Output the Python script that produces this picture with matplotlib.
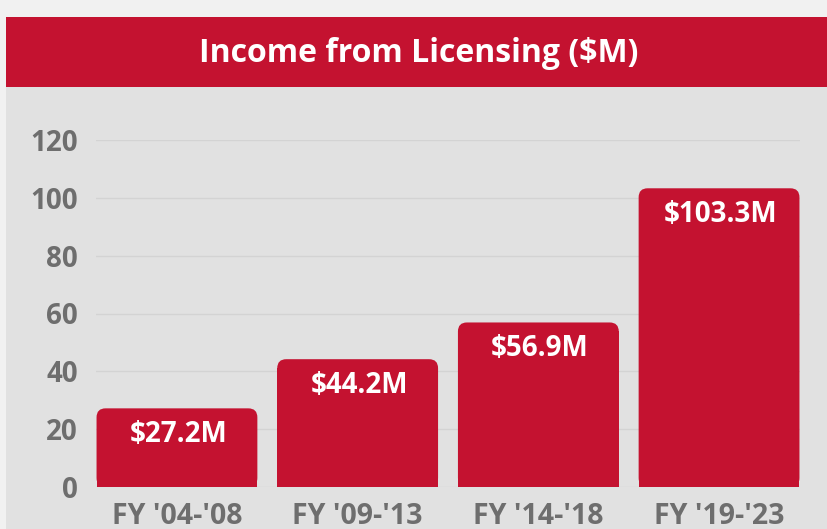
"""Income from Licensing bar chart, recreated in matplotlib."""
import matplotlib
matplotlib.use("Agg")
import matplotlib.pyplot as plt
from matplotlib.patches import FancyBboxPatch, Rectangle

periods = ["FY '04-'08", "FY '09-'13", "FY '14-'18", "FY '19-'23"]
income = [27.2, 44.2, 56.9, 103.3]
bar_labels = ["$27.2M", "$44.2M", "$56.9M", "$103.3M"]
yticks = [0, 20, 40, 60, 80, 100, 120]

RED = "#c41230"
PANEL = "#e1e1e1"
OUTER = "#f1f1f1"
TICK_GRAY = "#6e6e6e"
W, H = 828, 529

plt.rcParams["font.family"] = ["Open Sans", "DejaVu Sans"]

fig = plt.figure(figsize=(W / 100, H / 100), dpi=100)
fig.patch.set_facecolor(OUTER)

# grey panel + red title band, in figure pixel fractions
fig.add_artist(Rectangle((6 / W, 0), 1 - 6 / W, 1 - 87 / H,
                         transform=fig.transFigure, fc=PANEL, ec="none",
                         zorder=0))
fig.add_artist(Rectangle((6 / W, 1 - 87 / H), 1 - 6 / W, 70 / H,
                         transform=fig.transFigure, fc=RED, ec="none",
                         zorder=0))
fig.text(419 / W, 1 - 53 / H, "Income from Licensing ($M)",
         color="white", fontsize=23, fontweight="bold",
         ha="center", va="center")

# axes: x 96..800 px, y value 0 at 487 px, 120 at 140 px
ax = fig.add_axes([96 / W, (H - 487) / H, (800 - 96) / W, (487 - 140) / H])
ax.set_facecolor("none")
ax.set_xlim(-0.448, 3.448)
ax.set_ylim(0, 120)
for s in ax.spines.values():
    s.set_visible(False)
ax.set_yticks(yticks)
ax.yaxis.grid(True, color="#d3d3d3", lw=1.0)
ax.set_axisbelow(True)
ax.tick_params(length=0, pad=13, labelsize=20, labelcolor=TICK_GRAY)
for t in ax.get_yticklabels():
    t.set_fontweight("bold")
ax.set_xticks(range(len(periods)))
ax.set_xticklabels(periods, fontweight="bold")
ax.tick_params(axis="x", pad=11, labelsize=20.5)

width = 0.89
xpx = (800 - 96) / 3.896          # px per x unit
ypx = (487 - 140) / 120           # px per y unit
r_px = 9
r_x = r_px / xpx
aspect = xpx / ypx
r_y = r_px / ypx

bars = ax.bar(range(len(income)), [v - r_y for v in income], width,
              color=RED, zorder=2)
for b, v, lab in zip(bars, income, bar_labels):
    ax.add_patch(FancyBboxPatch((b.get_x(), 0), width, v,
                                boxstyle=f"round,pad=0,rounding_size={r_x}",
                                mutation_aspect=aspect, fc=RED, ec="none",
                                zorder=2))
    ax.annotate(lab, (b.get_x() + width / 2, v), xytext=(1, -19),
                textcoords="offset points", ha="center", va="center",
                color="white", fontsize=20, fontweight="bold", zorder=3)

fig.savefig("out.png", dpi=100, facecolor=fig.get_facecolor())
